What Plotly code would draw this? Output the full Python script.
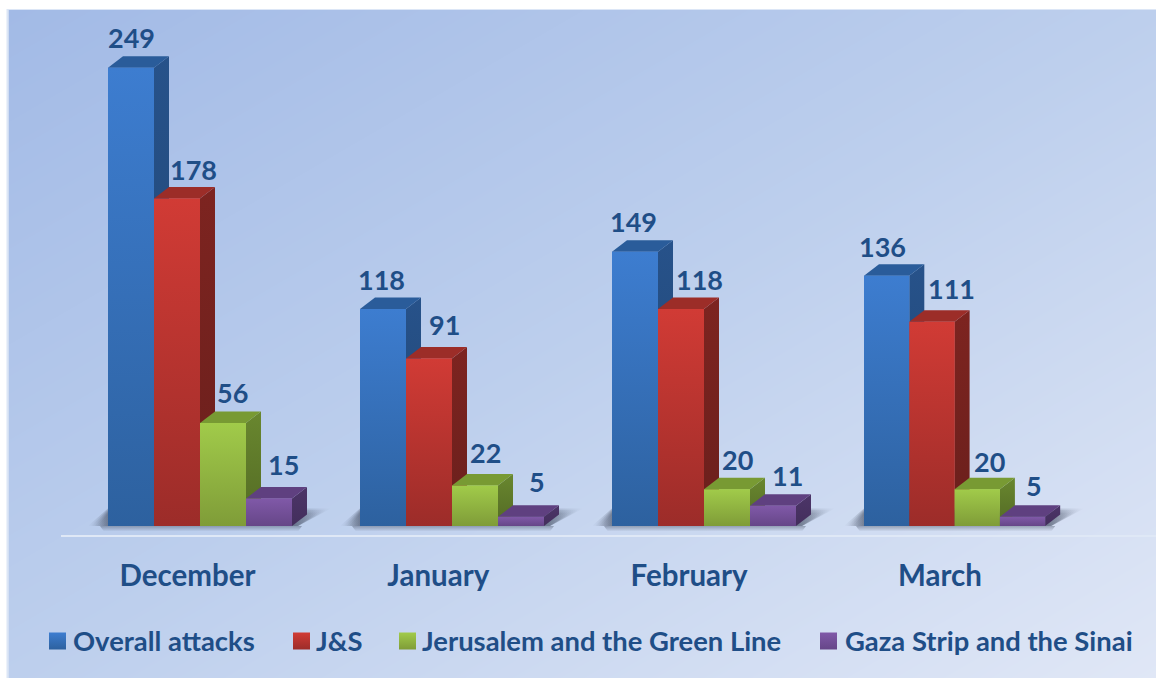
import plotly.graph_objects as go

# ---------- data ----------
months = ["December", "January", "February", "March"]
series_names = ["Overall attacks", "J&S", "Jerusalem and the Green Line", "Gaza Strip and the Sinai"]
overall = [249, 118, 149, 136]
js = [178, 91, 118, 111]
jerusalem = [56, 22, 20, 20]
gaza = [15, 5, 11, 5]
series_values = [overall, js, jerusalem, gaza]

# ---------- styles: (front top, front bottom, side top, side bottom, top face) ----------
STYLES = [
    ("#3D7DD0", "#2D619F", "#27528A", "#1F4470", "#2A5C9A"),
    ("#D13B35", "#9C2C29", "#7D2420", "#6A1F1C", "#9C2D28"),
    ("#A1CB4A", "#7F9C38", "#69872F", "#536A24", "#789A33"),
    ("#8059A8", "#664688", "#4C3568", "#432E5C", "#5F4080"),
]
TEXT = "#1F4E87"
FONT = "Lato"
W, H = 1156, 678
PANEL_X, PANEL_Y = 8.5, 10.0
GROUP_PX = 252.0
TICK_PITCH_PX = 250.8
BAR_PX = [46.0, 46.0, 46.0, 45.3]
DEPTH_X = 15.0
DEPTH_Y = 11.5
PX_PER_UNIT = 1.84
BASE_PY = 526.0
AXIS_PY = 535.0
TICK0_PX = 187.5
FIRST_BAR_PX = 108.0
AXIS_LEFT_PX = 61.0

LABEL_DX = [[0, -2, -2, -4], [16, 15, 18, 20], [9, 10, 10, 12], [14, 16, 14, 11]]
LABEL_DY = [[30, 29, 30, 29], [29, 34, 29, 33], [30, 33, 30, 28], [34, 35, 30, 31]]

bws = [b / GROUP_PX for b in BAR_PX]
dx = DEPTH_X / GROUP_PX
dy = DEPTH_Y / PX_PER_UNIT
bar0 = (FIRST_BAR_PX - TICK0_PX) / GROUP_PX

fig = go.Figure()

# background gradient on a pixel-ranged axis pair
fig.add_trace(go.Heatmap(
    x=[PANEL_X, W], y=[PANEL_Y, H], z=[[0, 0.5], [0.5, 1]], zmin=0, zmax=1, zsmooth="best",
    colorscale=[[0, "#A2BAE6"], [0.5, "#BDCFED"], [1, "#E0E7F6"]],
    showscale=False, hoverinfo="skip", xaxis="x", yaxis="y"))

common = dict(xaxis="x2", yaxis="y2", showlegend=False, hoverinfo="skip", mode="lines")

# floor shadows: a few slightly inset layers to soften the edges
for g in range(len(months)):
    l = g + bar0
    r = l + 4 * bws[g]
    for inset in (0.0, 1.5, 3.0, 4.5):
        i = inset / GROUP_PX
        v = inset / PX_PER_UNIT
        fig.add_trace(go.Scatter(
            x=[l - 20 / GROUP_PX + 2 * i, l, r + 39 / GROUP_PX - 3 * i, r + 6 / GROUP_PX, l - 20 / GROUP_PX + 2 * i],
            y=[0, 9.5 - v, 9.5 - v, 0, 0], fill="toself", line=dict(width=0),
            fillgradient=dict(type="horizontal", colorscale=[
                [0, "rgba(60,70,90,0)"], [0.09, "rgba(60,70,90,0.28)"],
                [0.84, "rgba(60,70,90,0.28)"], [1, "rgba(60,70,90,0)"]]),
            **common))
    fig.add_trace(go.Scatter(
        x=[l - 8 / GROUP_PX, r + 10 / GROUP_PX, r + 6 / GROUP_PX, l - 4 / GROUP_PX, l - 8 / GROUP_PX],
        y=[0, 0, -3, -3, 0], fill="toself", line=dict(width=0),
        fillgradient=dict(type="vertical", colorscale=[
            [0, "rgba(60,70,90,0)"], [1, "rgba(60,70,90,0.4)"]]),
        **common))

# real bars
for j, name in enumerate(series_names):
    fig.add_trace(go.Bar(
        x=[g + bar0 + (j + 0.5) * bws[g] for g in range(len(months))],
        y=series_values[j], width=bws, name=name,
        marker=dict(color=STYLES[j][0], line=dict(width=0)),
        xaxis="x2", yaxis="y2", showlegend=False))

# 3D faces, painted left to right so that later bars cover earlier sides
for g in range(len(months)):
    for j in range(len(series_names)):
        v = series_values[j][g]
        l = g + bar0 + j * bws[g]
        r = l + bws[g]
        ft, fb, st, sb, tp = STYLES[j]
        fig.add_trace(go.Scatter(
            x=[r, r + dx, r + dx, r, r], y=[0, dy, v + dy, v, 0], fill="toself",
            line=dict(width=0),
            fillgradient=dict(type="vertical", colorscale=[[0, sb], [1, st]]), **common))
        fig.add_trace(go.Scatter(
            x=[l, r, r + dx, l + dx, l], y=[v, v, v + dy, v + dy, v], fill="toself",
            line=dict(width=0), fillcolor=tp, **common))
        fig.add_trace(go.Scatter(
            x=[l, r, r, l, l], y=[0, 0, v, v, 0], fill="toself",
            line=dict(width=0),
            fillgradient=dict(type="vertical", colorscale=[[0, fb], [1, ft]]), **common))

# value labels
annotations = []
for j in range(len(series_names)):
    for g in range(len(months)):
        v = series_values[j][g]
        annotations.append(dict(
            x=g + bar0 + (j + 0.5) * bws[g], y=v, xref="x2", yref="y2", text=str(v),
            showarrow=False, xshift=LABEL_DX[j][g], yshift=LABEL_DY[j][g],
            xanchor="center", yanchor="middle",
            font=dict(family=FONT, size=27, color=TEXT, weight="bold")))

# legend drawn in figure pixel coordinates
LEG_X = [57.5, 301.5, 407.5, 828.5]
LEG_TEXT_X = [71, 314, 420, 843]
LEG_Y = 640
for j, name in enumerate(series_names):
    fig.add_trace(go.Scatter(
        x=[LEG_X[j]], y=[LEG_Y + 1], mode="markers", name=name, showlegend=False, hoverinfo="skip",
        marker=dict(symbol="square", size=17, color=STYLES[j][0], line=dict(width=0),
                    gradient=dict(type="vertical", color=STYLES[j][1])),
        xaxis="x", yaxis="y"))
    annotations.append(dict(
        x=LEG_TEXT_X[j], y=LEG_Y, xref="x", yref="y", text=name, showarrow=False,
        xanchor="left", yanchor="middle",
        font=dict(family=FONT, size=27.4, color=TEXT, weight="bold")))

fig.update_layout(
    width=W, height=H, autosize=False,
    margin=dict(l=0, r=0, t=0, b=0, pad=0),
    paper_bgcolor="white", plot_bgcolor="rgba(0,0,0,0)",
    barmode="overlay", showlegend=False,
    annotations=annotations,
    shapes=[dict(type="rect", xref="paper", yref="paper", x0=6.5 / W, x1=1, y0=0, y1=(H - 9) / H,
                 fillcolor="#DCE6F6", line=dict(width=0), layer="below")],
    xaxis=dict(domain=[PANEL_X / W, 1], range=[PANEL_X, W], visible=False, fixedrange=True),
    yaxis=dict(domain=[0, (H - PANEL_Y) / H], range=[H, PANEL_Y], visible=False, fixedrange=True),
    xaxis2=dict(
        domain=[AXIS_LEFT_PX / W, 1],
        range=[(AXIS_LEFT_PX - TICK0_PX) / GROUP_PX, (W - TICK0_PX) / GROUP_PX],
        anchor="y2", tickmode="array",
        tickvals=[g * TICK_PITCH_PX / GROUP_PX for g in range(len(months))], ticktext=months,
        ticks="", showgrid=False, zeroline=False, showline=True, linecolor="#DFE8F6", linewidth=2,
        ticklabelstandoff=14,
        tickfont=dict(family=FONT, size=29.5, color=TEXT, weight="bold"), fixedrange=True),
    yaxis2=dict(
        domain=[(H - AXIS_PY) / H, 1],
        range=[(BASE_PY - AXIS_PY) / PX_PER_UNIT, BASE_PY / PX_PER_UNIT],
        anchor="x2", visible=False, fixedrange=True),
)

fig.write_html("out.html", config={"displayModeBar": False},
               post_script="document.body.style.margin='0';")
